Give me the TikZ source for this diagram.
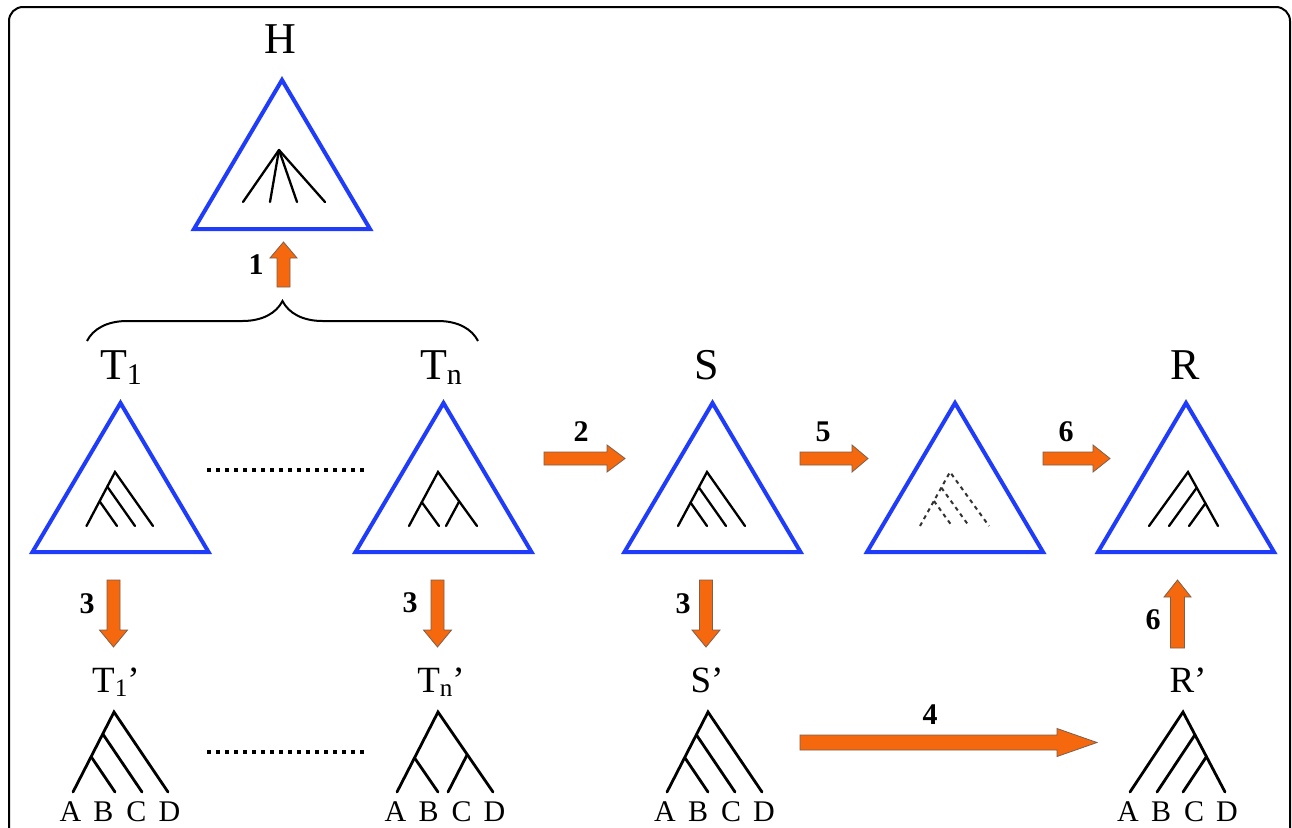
\documentclass[tikz,border=0pt]{standalone}
\usepackage{fontspec}
\setmainfont{Liberation Serif}
\usetikzlibrary{calc,decorations.pathreplacing}
\definecolor{tblue}{RGB}{30,60,250}
\definecolor{aorange}{RGB}{245,104,14}
\definecolor{aedge}{RGB}{125,95,75}
\tikzset{
 tri/.style={draw=tblue,line width=4pt,line join=miter},
 tline/.style={line width=2.3pt,line cap=round},
 bline/.style={line width=2.8pt,line cap=round},
 dline/.style={line width=2pt,dash pattern=on 4pt off 4pt,draw=black!80},
 blockarrow/.style={fill=aorange,draw=aedge,line width=0.8pt,line join=miter},
 biglbl/.style={font=\fontsize{44}{44}\selectfont,anchor=base,inner sep=0pt},
 midlbl/.style={font=\fontsize{37}{37}\selectfont,anchor=base,inner sep=0pt},
 numlbl/.style={font=\fontsize{30}{30}\selectfont\bfseries,inner sep=0pt},
 leaflbl/.style={font=\fontsize{30}{30}\selectfont,anchor=base,inner sep=0pt},
 dotline/.style={line width=4pt,dash pattern=on 4pt off 5pt},
 bracestyle/.style={line width=2pt,decorate,decoration={brace,amplitude=40pt}},
}
\newcommand\subx[1]{\raisebox{-0.12em}{\scalebox{0.68}{#1}}}
% triangle: name, centre x, apex y
\newcommand\mktri[3]{%
 \coordinate (#1t) at (#2,#3);
 \coordinate (#1l) at (#2-88,#3+149);
 \coordinate (#1r) at (#2+88,#3+149);
 \draw[tri] (#1t) -- (#1l) -- (#1r) -- cycle;}
% tree skeleton: name, style, root x, root y, leaf y, A x, B x, C x, D x
\newcommand\treebase[9]{%
 \coordinate (#1R) at (#3,#4);
 \coordinate (#1A) at (#6,#5);
 \coordinate (#1B) at (#7,#5);
 \coordinate (#1C) at (#8,#5);
 \coordinate (#1D) at (#9,#5);
 \draw[#2] (#1A) -- (#1R) -- (#1D);}
% branch from leaf #2 up to the root-A line, parallel to root-D
\newcommand\brL[3]{%
 \coordinate (#1#2p) at ($(#1#2)+(#1R)-(#1D)$);
 \draw[#3] (intersection of #1R--#1A and #1#2--#1#2p) -- (#1#2);}
% branch from leaf #2 up to the root-D line, parallel to root-A
\newcommand\brR[3]{%
 \coordinate (#1#2q) at ($(#1#2)+(#1R)-(#1A)$);
 \draw[#3] (intersection of #1R--#1D and #1#2--#1#2q) -- (#1#2);}
% block arrow: start, end, shaft half width, head half width, head length, prefix
\newcommand\barrow[6]{%
 \coordinate (#6h) at ($(#2)!#5!(#1)$);
 \draw[blockarrow] ($(#1)!#3!90:(#2)$) -- ($(#6h)!#3!-90:(#1)$) -- ($(#6h)!#4!-90:(#1)$)
   -- (#2) -- ($(#6h)!#4!90:(#1)$) -- ($(#6h)!#3!90:(#1)$) -- ($(#1)!#3!-90:(#2)$) -- cycle;}
\begin{document}
\begin{tikzpicture}[x=1pt,y=-1pt]
\useasboundingbox (0,0) rectangle (1292,827);
\fill[white] (0,0) rectangle (1292,827);
\draw[line width=2pt,rounded corners=14pt] (9,7) rectangle (1290,870);

% ---------- triangles ----------
\mktri{H}{282}{80}
\mktri{P}{120.5}{403}
\mktri{Q}{443.5}{403}
\mktri{S}{712.5}{403}
\mktri{M}{955}{403}
\mktri{U}{1186}{403}

% H fan
\coordinate (hf) at (279,150);
\foreach \x [count=\i] in {243,270,297,325}{
 \coordinate (hf\i) at (\x,202);
 \draw[tline] (hf) -- (hf\i);}

% inner trees
\treebase{pi}{tline}{115}{472}{526}{86.5}{117}{135}{153}
\brL{pi}{C}{tline}\brL{pi}{B}{tline}
\treebase{qi}{tline}{438}{472}{526}{409}{439}{446}{477}
\brL{qi}{B}{tline}\brR{qi}{C}{tline}
\treebase{si}{tline}{707}{472}{526}{678}{707}{726}{745}
\brL{si}{C}{tline}\brL{si}{B}{tline}
\treebase{mi}{dline}{950}{472}{526}{920}{952}{969}{989}
\brL{mi}{C}{dline}\brL{mi}{B}{dline}
\treebase{ui}{tline}{1188}{472}{526}{1149}{1169}{1189}{1218}
\brR{ui}{B}{tline}\brR{ui}{C}{tline}

% bottom trees
\treebase{pb}{bline}{114}{712}{792}{73}{115}{142}{168}
\brL{pb}{C}{bline}\brL{pb}{B}{bline}
\treebase{qb}{bline}{438}{712}{792}{397}{438}{448}{493}
\brL{qb}{B}{bline}\brR{qb}{C}{bline}
\treebase{sb}{bline}{708}{712}{792}{667}{708}{735}{762}
\brL{sb}{C}{bline}\brL{sb}{B}{bline}
\treebase{ub}{bline}{1183}{712}{792}{1130}{1157}{1183}{1225}
\brR{ub}{B}{bline}\brR{ub}{C}{bline}

% leaf letters
\foreach \l/\o in {A/-49.5,B/-16.5,C/16.5,D/49.5}{
 \node[leaflbl] (pl\l) at (120+\o,821) {\l};
 \node[leaflbl] (ql\l) at (445+\o,821) {\l};
 \node[leaflbl] (sl\l) at (714.5+\o,821) {\l};
 \node[leaflbl] (ul\l) at (1177.5+\o,821) {\l};}

% ---------- labels ----------
\node[biglbl] (Hlab) at (280,53) {H};
\node[biglbl] (T1lab) at (121,379) {T\subx{1}};
\node[biglbl] (Tnlab) at (441,379) {T\subx{n}};
\node[biglbl] (Slab) at (707,379) {S};
\node[biglbl] (Rlab) at (1185,379) {R};
\node[midlbl] (T1p) at (116,692) {T\subx{1}’};
\node[midlbl] (Tnp) at (441,692) {T\subx{n}’};
\node[midlbl] (Sp) at (707,692) {S’};
\node[midlbl] (Rp) at (1188,692) {R’};

% brace
\coordinate (bl) at (87,341);
\coordinate (br) at (478,341);
\draw[bracestyle] (bl) -- (br);

% dotted lines
\coordinate (d1a) at (207,470); \coordinate (d1b) at (368,470);
\draw[dotline] (d1a) -- (d1b);
\coordinate (d2a) at (207,752); \coordinate (d2b) at (368,752);
\draw[dotline] (d2a) -- (d2b);

% ---------- block arrows ----------
\coordinate (a1s) at (283.5,287); \coordinate (a1e) at (283.5,242);
\barrow{a1s}{a1e}{6.5pt}{13.5pt}{16pt}{a1}
\coordinate (a2s) at (544,458.5); \coordinate (a2e) at (625,458.5);
\barrow{a2s}{a2e}{6.5pt}{13.5pt}{18pt}{a2}
\coordinate (a5s) at (800,458.5); \coordinate (a5e) at (868,458.5);
\barrow{a5s}{a5e}{6.5pt}{13.5pt}{16pt}{a5}
\coordinate (a6s) at (1043,458.5); \coordinate (a6e) at (1110,458.5);
\barrow{a6s}{a6e}{6.5pt}{13.5pt}{17pt}{a6}
\coordinate (a3s) at (113.5,580); \coordinate (a3e) at (113.5,647);
\barrow{a3s}{a3e}{6.5pt}{14pt}{17pt}{a3}
\coordinate (b3s) at (437.5,580); \coordinate (b3e) at (437.5,647);
\barrow{b3s}{b3e}{6.5pt}{14pt}{17pt}{b3}
\coordinate (c3s) at (706,580); \coordinate (c3e) at (706,647);
\barrow{c3s}{c3e}{6.5pt}{14pt}{17pt}{c3}
\coordinate (v6s) at (1177.5,648); \coordinate (v6e) at (1177.5,580);
\barrow{v6s}{v6e}{7pt}{13.5pt}{17pt}{v6}
\coordinate (a4s) at (800,742.5); \coordinate (a4e) at (1097,742.5);
\barrow{a4s}{a4e}{7.5pt}{14pt}{40pt}{a4}

% step numbers
\node[numlbl] (n1) at (256,265) {1};
\node[numlbl] (n2) at (581,432) {2};
\node[numlbl] (n5) at (823,432) {5};
\node[numlbl] (n6a) at (1066,432) {6};
\node[numlbl] (n3a) at (87,604) {3};
\node[numlbl] (n3b) at (410,603) {3};
\node[numlbl] (n3c) at (683,604) {3};
\node[numlbl] (n6b) at (1153,620) {6};
\node[numlbl] (n4) at (930,715) {4};
\end{tikzpicture}
\end{document}
